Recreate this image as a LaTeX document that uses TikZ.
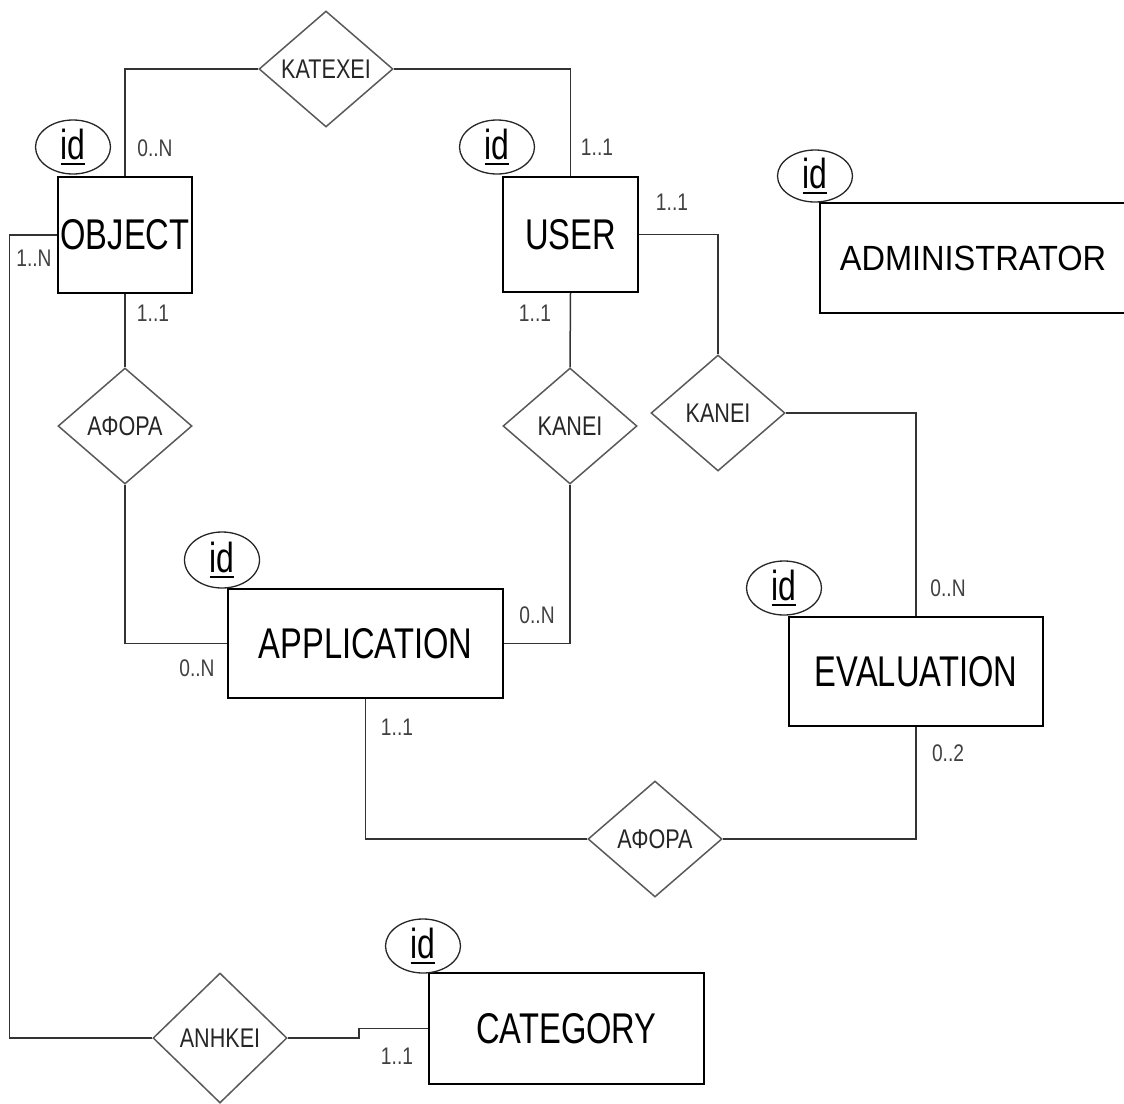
\documentclass[tikz,border=0pt]{standalone}
\usepackage{fontspec}
\usetikzlibrary{shapes.geometric}
\newfontfamily\erfont[FakeStretch=0.76]{Liberation Sans}
\newfontfamily\admfont[FakeStretch=0.93]{Liberation Sans}
\newfontfamily\relfont[FakeStretch=0.8]{Liberation Sans}
\newcommand\idkey{\setbox0\hbox{id}\rlap{\rule[-5pt]{\wd0}{1.6pt}}\box0}

\begin{document}
\begin{tikzpicture}[x=1pt, y=-1pt,
    entity/.style ={rectangle, draw, line width=1.5pt, inner sep=0pt, font=\erfont\fontsize{43}{43}\selectfont},
    relation/.style ={diamond, draw=black!65, line width=1.5pt, inner sep=0pt, minimum width=134pt, minimum height=116pt, text=black!85, font=\relfont\fontsize{27}{27}\selectfont},
    key/.style ={ellipse, draw=black!85, line width=1.3pt, inner sep=0pt, minimum width=75pt, minimum height=54pt, font=\erfont\fontsize{42}{42}\selectfont},
    card/.style ={text=black!75, font=\relfont\fontsize{24}{24}\selectfont},
    link/.style ={draw=black!80, line width=1.5pt}]
   \useasboundingbox (0,0) rectangle (1124,1103);

   % entities
   \node[entity, minimum width=134pt, minimum height=116pt] (OBJ)  at (125,235)  {OBJECT};
   \node[entity, minimum width=135pt, minimum height=115pt] (USER) at (570.5,234.5)  {USER};
   \node[entity, minimum width=306pt, minimum height=110pt, font=\admfont\fontsize{35}{35}\selectfont] (ADM) at (973,258)  {ADMINISTRATOR};
   \node[entity, minimum width=275pt, minimum height=109pt] (APP)  at (365.5,643.5)  {APPLICATION};
   \node[entity, minimum width=254pt, minimum height=109pt] (EVAL) at (916,671.5)  {EVALUATION};
   \node[entity, minimum width=275pt, minimum height=111pt] (CAT)  at (566.5,1028.5)  {CATEGORY};

   % keys
   \node[key] (K1) at (73,147)  {\idkey};
   \node[key] (K2) at (497,147)  {\idkey};
   \node[key, minimum height=52pt] (K3) at (815,176)  {\idkey};
   \node[key, minimum height=56pt] (K4) at (222,560)  {\idkey};
   \node[key] (K5) at (784,588)  {\idkey};
   \node[key] (K6) at (423,946)  {\idkey};

   % relations
   \node[relation] (R1) at (326,69)  {ΚΑΤΕΧΕΙ};
   \node[relation] (R2) at (125,426)  {ΑΦΟΡΑ};
   \node[relation] (R3) at (570,426)  {ΚΑΝΕΙ};
   \node[relation] (R4) at (718,413)  {ΚΑΝΕΙ};
   \node[relation] (R5) at (655,839)  {ΑΦΟΡΑ};
   \node[relation, minimum height=130pt] (R6) at (220,1038)  {ΑΝΗΚΕΙ};

   \draw[link] (OBJ.north) |- (R1.west);
   \draw[link] (R1.east) -| (USER.north);
   \draw[link] (OBJ.south) -- (R2.north);
   \draw[link] (R2.south) |- (APP.west);
   \draw[link] (USER.south) -- (R3.north);
   \draw[link] (R3.south) |- (APP.east);
   \draw[link] (USER.east) -| (R4.north);
   \draw[link] (R4.east) -| (EVAL.north);
   \draw[link] (EVAL.south) |- (R5.east);
   \draw[link] (APP.south) |- (R5.west);
   \draw[link] (OBJ.west) -- ++(-48,0) |- (R6.west);
   \draw[link] (R6.east) -- ++(71,0) |- (CAT.west);

   % cardinalities
   \node[card] (c1)  at (155,148)  {0..N};
   \node[card] (c2)  at (34,258)  {1..N};
   \node[card] (c3)  at (153,313)  {1..1};
   \node[card] (c4)  at (597,147)  {1..1};
   \node[card] (c5)  at (672,202)  {1..1};
   \node[card] (c6)  at (535,313)  {1..1};
   \node[card] (c7)  at (197,668)  {0..N};
   \node[card] (c8)  at (537,615)  {0..N};
   \node[card] (c9)  at (397,727)  {1..1};
   \node[card] (c10) at (948,588)  {0..N};
   \node[card] (c11) at (948,753)  {0..2};
   \node[card] (c12) at (397,1056)  {1..1};
 \end{tikzpicture}
\end{document}
